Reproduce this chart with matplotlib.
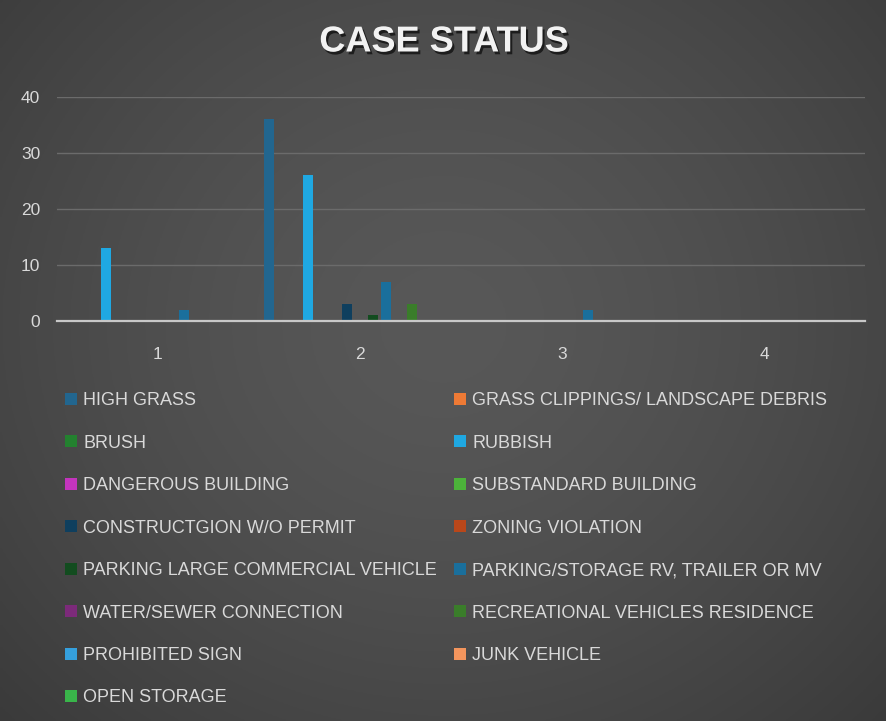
import numpy as np
import matplotlib
matplotlib.use("Agg")
import matplotlib.pyplot as plt
from matplotlib.patches import Patch
import matplotlib.patheffects as pe

categories = ["1", "2", "3", "4"]
series_names = [
    "HIGH GRASS", "GRASS CLIPPINGS/ LANDSCAPE DEBRIS", "BRUSH", "RUBBISH",
    "DANGEROUS BUILDING", "SUBSTANDARD BUILDING", "CONSTRUCTGION W/O PERMIT",
    "ZONING VIOLATION", "PARKING LARGE COMMERCIAL VEHICLE",
    "PARKING/STORAGE RV, TRAILER OR MV", "WATER/SEWER CONNECTION",
    "RECREATIONAL VEHICLES RESIDENCE", "PROHIBITED SIGN", "JUNK VEHICLE",
    "OPEN STORAGE",
]
high_grass = [0, 36, 0, 0]
grass_clippings = [0, 0, 0, 0]
brush = [0, 0, 0, 0]
rubbish = [13, 26, 0, 0]
dangerous_building = [0, 0, 0, 0]
substandard_building = [0, 0, 0, 0]
construction_wo_permit = [0, 3, 0, 0]
zoning_violation = [0, 0, 0, 0]
parking_large_commercial = [0, 1, 0, 0]
parking_storage_rv = [2, 7, 2, 0]
water_sewer = [0, 0, 0, 0]
recreational_vehicles = [0, 3, 0, 0]
prohibited_sign = [0, 0, 0, 0]
junk_vehicle = [0, 0, 0, 0]
open_storage = [0, 0, 0, 0]

series_values = [
    high_grass, grass_clippings, brush, rubbish, dangerous_building,
    substandard_building, construction_wo_permit, zoning_violation,
    parking_large_commercial, parking_storage_rv, water_sewer,
    recreational_vehicles, prohibited_sign, junk_vehicle, open_storage,
]
colors = [
    "#22668f", "#ee7a35", "#23812f", "#1fa8e2", "#c334bd", "#4cb33a",
    "#0f3f5e", "#b9471a", "#124c1f", "#1a6f9c", "#7c2a7a", "#3a7d2a",
    "#35a0dd", "#f3955d", "#39b54a",
]

W, H = 887, 721
fig = plt.figure(figsize=(W / 100, H / 100), dpi=100)

# background gradient
bg = fig.add_axes([0, 0, 1, 1], zorder=-10)
yy, xx = np.mgrid[0:1:300j, 0:1:300j]
r = np.sqrt(((xx - 0.5) / 0.75) ** 2 + ((yy - 0.55) / 0.85) ** 2)
val = 0.345 - 0.13 * np.clip(r, 0, 1) ** 1.5
img = np.dstack([val, val, val])
bg.imshow(img, extent=[0, 1, 0, 1], aspect="auto", origin="lower")
bg.set_axis_off()

ax = fig.add_axes([57 / W, 1 - 321 / H, (865 - 57) / W, (321 - 97) / H])
ax.set_facecolor("none")

n = len(series_values)
x = np.arange(len(categories))
slot = 13 / 202
bw = 10 / 202
for i, (vals, c) in enumerate(zip(series_values, colors)):
    offs = (i - (n - 1) / 2) * slot
    ax.bar(x + offs, vals, width=bw, color=c, zorder=3, linewidth=0)

ax.set_xlim(-0.5, len(categories) - 0.5)
ax.set_ylim(0, 40)
ax.set_yticks([0, 10, 20, 30, 40])
ax.set_xticks(x)
ax.set_xticklabels(categories)
ax.yaxis.grid(True, color="#6b6b6b", linewidth=1.0, zorder=0)
for s in ["top", "right", "left"]:
    ax.spines[s].set_visible(False)
ax.spines["bottom"].set_color("#c8c8c8")
ax.spines["bottom"].set_linewidth(1.6)
ax.spines["bottom"].set_zorder(4)
ax.tick_params(axis="both", length=0, colors="#d9d9d9", labelsize=12.5)
ax.tick_params(axis="y", pad=12)
ax.tick_params(axis="x", pad=19)
for lab in ax.get_xticklabels() + ax.get_yticklabels():
    lab.set_fontfamily(["Liberation Sans", "DejaVu Sans"])

fig.text(444 / W, 1 - 42 / H, "CASE STATUS", ha="center", va="center",
         fontsize=26, fontweight="bold", color="#f2f2f2",
         family=["Liberation Sans", "DejaVu Sans"],
         path_effects=[pe.withSimplePatchShadow(offset=(1.5, -2), shadow_rgbFace="#111111", alpha=0.8)])

handles = [Patch(facecolor=c, edgecolor="none") for c in colors]
# reorder so that two-column legend reads row-wise
order = list(range(0, n, 2)) + list(range(1, n, 2))
leg = fig.legend([handles[i] for i in order], [series_names[i] for i in order],
                 ncol=2, loc="upper left", bbox_to_anchor=(49 / W, 1 - 376 / H),
                 frameon=False, labelcolor="#d9d9d9",
                 handlelength=0.65, handleheight=0.65, handletextpad=0.35,
                 labelspacing=1.41, columnspacing=0.95,
                 prop={"family": ["Liberation Sans", "DejaVu Sans"], "size": 13})

fig.savefig("out.png", dpi=100)
